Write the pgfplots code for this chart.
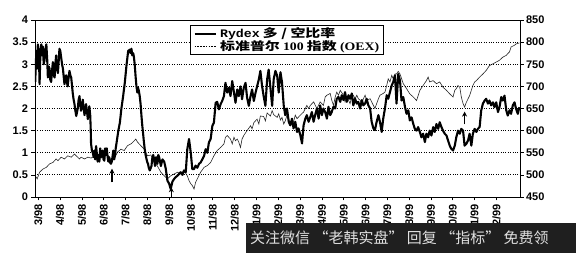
\documentclass[border=0pt]{standalone}
\usepackage{fontspec}
\setmainfont{Liberation Sans}
\newfontfamily\cjk{Noto Sans CJK SC}
\newfontfamily\cjkw[FakeStretch=1.3]{Noto Sans CJK SC}
\newfontfamily\monof[FakeStretch=1.15]{Liberation Mono}
\newfontfamily\seriff[FakeStretch=1.2]{Liberation Serif}
\usepackage{pgfplots}
\pgfplotsset{compat=1.18}
\usetikzlibrary{arrows.meta}
\begin{document}
\begin{tikzpicture}
\begin{axis}[
  name=oex, at={(0,0)}, anchor=south west,
  scale only axis, width=485pt, height=177pt,
  xmin=-0.15, xmax=22.08, ymin=450, ymax=850,
  axis x line=none, axis y line*=right,
  ytick={450,500,...,850},
  tick align=outside, major tick length=3.5pt,
  tick style={black, line width=0.7pt},
  axis line style={black, line width=0.9pt},
  /pgf/number format/assume math mode=true,
  yticklabel style={font=\fontsize{11}{11}\selectfont\bfseries, xshift=-1pt},
]
\addplot[black!85, line width=0.6pt] coordinates {
(-0.14,498)(-0.05,491)(0.06,506)(0.21,513)(0.37,517)(0.52,525)(0.67,528)(0.82,536)(0.90,532)(1.05,540)(1.20,536)(1.35,543)(1.51,540)(1.66,547)(1.74,543)(1.89,536)(1.96,540)(2.12,536)(2.27,540)(2.42,538)(2.57,542)(2.72,545)(2.88,538)(3.03,542)(3.18,545)(3.33,534)(3.49,538)(3.64,552)(3.79,558)(3.94,555)(4.09,566)(4.25,570)(4.40,577)(4.47,581)(4.55,574)(4.70,566)(4.86,558)(4.93,550)(5.01,543)(5.16,545)(5.31,528)(5.46,520)(5.62,506)(5.77,498)(5.92,491)(6.07,498)(6.23,502)(6.38,506)(6.53,502)(6.68,510)(6.83,498)(6.91,487)(6.99,480)(7.06,476)(7.14,468)(7.21,483)(7.29,491)(7.44,506)(7.60,517)(7.75,521)(7.90,528)(8.05,543)(8.20,555)(8.36,562)(8.51,570)(8.58,585)(8.66,589)(8.81,581)(8.89,570)(8.97,585)(9.04,577)(9.12,581)(9.19,574)(9.27,562)(9.34,581)(9.42,589)(9.57,600)(9.73,611)(9.80,604)(9.88,618)(10.03,626)(10.11,615)(10.18,633)(10.33,632)(10.41,622)(10.49,640)(10.64,633)(10.72,645)(10.79,636)(10.95,630)(11.02,638)(11.10,624)(11.17,630)(11.25,615)(11.32,622)(11.40,635)(11.48,627)(11.55,612)(11.70,620)(11.78,635)(11.86,627)(12.01,635)(12.16,642)(12.31,657)(12.39,650)(12.47,657)(12.62,665)(12.77,650)(12.92,665)(13.07,657)(13.15,676)(13.23,680)(13.38,684)(13.45,669)(13.53,657)(13.61,676)(13.68,687)(13.76,680)(13.84,691)(13.99,680)(14.06,665)(14.14,676)(14.22,669)(14.29,661)(14.37,676)(14.44,680)(14.52,672)(14.60,680)(14.67,672)(14.75,669)(14.83,661)(14.90,672)(14.98,680)(15.05,669)(15.21,672)(15.28,665)(15.36,657)(15.43,650)(15.51,661)(15.59,672)(15.66,680)(15.81,684)(15.89,687)(15.97,702)(16.04,717)(16.12,710)(16.20,725)(16.27,717)(16.35,728)(16.42,728)(16.50,734)(16.58,728)(16.73,706)(16.88,695)(17.03,683)(17.19,676)(17.34,668)(17.49,691)(17.64,702)(17.79,713)(17.87,721)(17.94,710)(18.10,713)(18.25,706)(18.40,710)(18.55,698)(18.71,691)(18.86,683)(19.01,676)(19.09,691)(19.16,695)(19.24,702)(19.32,698)(19.39,676)(19.47,661)(19.54,653)(19.62,664)(19.77,679)(19.92,702)(20.00,710)(20.08,713)(20.23,721)(20.38,728)(20.53,736)(20.68,747)(20.84,751)(20.99,755)(21.14,759)(21.29,766)(21.45,770)(21.52,774)(21.60,778)(21.67,789)(21.83,793)(21.90,796)(22.05,798)
};
\end{axis}
\begin{axis}[
  name=ax, at={(0,0)}, anchor=south west,
  scale only axis, width=485pt, height=177pt,
  xmin=-0.15, xmax=22.08, ymin=0, ymax=4,
  ytick={0,0.5,...,4}, ytick pos=left, xtick pos=bottom,
  xtick={0,...,21},
  xticklabels={3/98,4/98,5/98,6/98,7/98,8/98,9/98,10/98,11/98,12/98,1/99,2/99,3/99,4/99,5/99,6/99,7/99,8/99,9/99,10/99,11/99,12/99},
  xticklabel style={rotate=90, anchor=east, font=\fontsize{11}{11}\selectfont\bfseries},
  yticklabel style={font=\fontsize{11}{11}\selectfont\bfseries, /pgf/number format/fixed},
  /pgf/number format/assume math mode=true,
  tick align=outside, major tick length=3.5pt,
  tick style={black, line width=0.7pt},
  axis line style={black, line width=0.9pt},
  ymajorgrids, grid style={black, dotted, line width=0.8pt},
  legend style={at={(0.3196,0.972)}, anchor=north west, draw=black, line width=1pt,
     font=\fontsize{11.5}{11.5}\selectfont, inner xsep=3pt, inner ysep=1pt, row sep=-1.5pt,
     nodes={inner sep=1.5pt}},
  legend image code/.code={\draw[#1] (0pt,0pt) -- (21pt,0pt);},
  legend cell align=left,
]
\addplot[black, line width=2.1pt, line join=round] coordinates {
(-0.14,2.6)(-0.09,3.3)(-0.05,2.9)(-0.02,3.45)(0.03,3.2)(0.06,2.55)(0.10,3.3)(0.14,3.45)(0.18,3.2)(0.21,3.4)(0.25,3.0)(0.29,3.1)(0.33,3.35)(0.37,3.45)(0.41,3.1)(0.44,2.7)(0.48,2.95)(0.52,2.9)(0.55,2.65)(0.59,2.6)(0.63,2.85)(0.67,3.05)(0.71,2.75)(0.75,2.7)(0.78,3.0)(0.82,3.2)(0.86,2.9)(0.90,2.8)(0.94,3.1)(0.97,3.35)(1.01,3.3)(1.05,3.15)(1.09,3.0)(1.13,2.9)(1.17,2.7)(1.20,2.55)(1.24,2.7)(1.28,2.75)(1.31,2.6)(1.35,2.5)(1.39,2.7)(1.43,2.85)(1.47,2.75)(1.51,2.7)(1.55,2.5)(1.58,2.35)(1.62,2.2)(1.66,2.1)(1.70,1.95)(1.74,1.83)(1.77,1.9)(1.81,2.0)(1.85,2.2)(1.89,2.28)(1.92,2.1)(1.96,1.95)(2.00,2.05)(2.04,2.2)(2.08,2.0)(2.12,1.85)(2.16,2.0)(2.19,2.1)(2.23,1.95)(2.27,1.76)(2.31,1.9)(2.34,2.05)(2.38,1.85)(2.40,1.6)(2.42,1.2)(2.46,1.05)(2.50,1.0)(2.54,0.9)(2.57,1.05)(2.61,0.85)(2.65,1.15)(2.69,0.95)(2.72,0.8)(2.76,0.95)(2.80,0.8)(2.84,1.1)(2.87,0.9)(2.91,0.95)(2.95,1.05)(2.99,0.85)(3.03,0.82)(3.06,1.1)(3.10,0.95)(3.14,1.1)(3.18,0.9)(3.21,0.8)(3.25,0.9)(3.29,0.78)(3.33,0.75)(3.37,0.8)(3.40,0.9)(3.44,1.05)(3.48,0.85)(3.52,0.95)(3.55,1.1)(3.59,1.23)(3.67,1.5)(3.74,1.68)(3.81,2.0)(3.89,2.28)(3.97,2.6)(4.04,2.96)(4.12,3.3)(4.19,3.33)(4.23,3.25)(4.27,3.35)(4.31,3.2)(4.35,3.25)(4.38,3.18)(4.42,3.0)(4.46,2.73)(4.50,2.5)(4.54,2.36)(4.57,2.47)(4.61,2.4)(4.65,2.28)(4.69,2.1)(4.73,1.83)(4.77,1.6)(4.80,1.46)(4.84,1.25)(4.88,1.08)(4.92,0.95)(4.96,0.86)(5.00,0.78)(5.03,0.75)(5.07,0.65)(5.11,0.6)(5.15,0.65)(5.19,0.7)(5.22,0.86)(5.27,0.95)(5.31,0.85)(5.35,0.7)(5.40,0.9)(5.46,0.75)(5.50,0.95)(5.54,0.9)(5.62,0.7)(5.69,0.85)(5.77,0.8)(5.84,0.65)(5.92,0.37)(6.00,0.3)(6.07,0.18)(6.15,0.35)(6.23,0.41)(6.30,0.45)(6.38,0.48)(6.45,0.52)(6.53,0.56)(6.61,0.5)(6.68,0.6)(6.76,0.56)(6.83,1.08)(6.91,1.31)(6.99,1.0)(7.06,0.63)(7.14,0.63)(7.21,0.71)(7.29,0.66)(7.37,0.75)(7.44,0.78)(7.52,0.85)(7.60,0.93)(7.67,1.08)(7.75,1.0)(7.82,1.23)(7.90,1.31)(7.98,1.61)(8.05,1.68)(8.13,2.13)(8.20,2.15)(8.28,1.98)(8.36,2.1)(8.43,2.17)(8.51,2.28)(8.58,2.58)(8.66,2.36)(8.74,2.47)(8.81,2.28)(8.89,2.62)(8.97,2.36)(9.04,2.13)(9.12,2.43)(9.19,2.28)(9.27,2.5)(9.34,2.21)(9.42,2.47)(9.50,2.58)(9.57,2.25)(9.65,2.06)(9.73,2.28)(9.80,2.43)(9.88,2.17)(9.96,2.36)(10.03,2.5)(10.11,2.66)(10.18,2.85)(10.26,2.5)(10.33,2.28)(10.41,2.06)(10.49,2.66)(10.56,2.88)(10.64,2.47)(10.72,2.06)(10.79,2.66)(10.87,2.85)(10.95,2.74)(11.02,2.36)(11.10,2.82)(11.17,2.6)(11.25,2.07)(11.32,1.85)(11.40,2.0)(11.48,1.7)(11.55,1.62)(11.63,1.77)(11.70,1.55)(11.78,1.7)(11.86,1.47)(11.93,1.55)(12.01,1.4)(12.09,1.21)(12.16,1.62)(12.24,1.77)(12.31,1.85)(12.39,1.7)(12.47,1.81)(12.54,1.92)(12.62,1.7)(12.69,1.85)(12.77,2.0)(12.85,1.77)(12.92,2.07)(13.00,1.85)(13.07,2.0)(13.15,1.92)(13.23,1.77)(13.30,2.04)(13.38,1.85)(13.45,1.92)(13.53,2.04)(13.61,2.0)(13.68,2.22)(13.76,2.26)(13.84,2.15)(13.91,2.3)(13.99,2.19)(14.06,2.37)(14.14,2.15)(14.22,2.3)(14.29,2.22)(14.37,2.34)(14.44,2.07)(14.52,2.22)(14.60,2.11)(14.67,2.15)(14.75,2.0)(14.83,2.19)(14.90,2.07)(14.98,2.11)(15.05,2.22)(15.13,2.07)(15.21,2.0)(15.28,1.7)(15.36,1.55)(15.43,1.51)(15.51,1.7)(15.59,1.85)(15.66,1.7)(15.74,1.47)(15.81,1.77)(15.89,2.0)(15.97,2.3)(16.04,2.22)(16.12,2.37)(16.20,2.52)(16.27,2.6)(16.35,2.75)(16.42,2.11)(16.50,2.78)(16.58,2.63)(16.65,2.18)(16.73,2.26)(16.81,2.03)(16.88,1.88)(16.96,1.96)(17.03,1.73)(17.11,1.8)(17.19,1.65)(17.26,1.54)(17.34,1.5)(17.41,1.58)(17.49,1.47)(17.56,1.35)(17.64,1.43)(17.72,1.24)(17.79,1.43)(17.87,1.35)(17.94,1.5)(18.02,1.39)(18.10,1.58)(18.17,1.47)(18.25,1.65)(18.33,1.54)(18.40,1.69)(18.48,1.58)(18.55,1.5)(18.63,1.43)(18.71,1.39)(18.78,1.28)(18.86,1.16)(18.93,1.09)(19.01,1.05)(19.09,1.16)(19.16,1.35)(19.24,1.5)(19.32,1.43)(19.39,1.54)(19.47,1.5)(19.54,1.16)(19.62,1.2)(19.70,1.28)(19.77,1.43)(19.85,1.16)(19.92,1.43)(20.00,1.54)(20.08,1.47)(20.15,1.54)(20.23,1.58)(20.30,1.95)(20.38,2.11)(20.46,2.18)(20.53,2.22)(20.61,2.11)(20.68,2.18)(20.76,2.07)(20.84,2.14)(20.91,2.03)(20.99,2.14)(21.07,1.92)(21.14,2.03)(21.22,2.26)(21.29,2.18)(21.37,2.29)(21.45,1.96)(21.52,1.84)(21.60,1.96)(21.67,1.88)(21.75,2.07)(21.83,2.14)(21.90,1.99)(21.98,1.88)(22.05,2.03)
};
\addlegendentry{\hspace{2pt}{\monof\bfseries Rydex} {\cjkw\bfseries 多 / 空比率}}
\addlegendimage{black, line width=0.7pt, dash pattern=on 1.6pt off 1.2pt}
\addlegendentry{\hspace{2pt}{\cjkw\bfseries 标准普尔} {\seriff\bfseries 100} {\cjkw\bfseries 指数} {\seriff\bfseries (OEX)}}
\draw[-{Stealth[length=5pt,width=5pt]}, line width=1.3pt] (axis cs:3.38,0.33) -- (axis cs:3.38,0.64);
\draw[-{Stealth[length=5pt,width=5pt]}, line width=1.3pt] (axis cs:6.1,0.0) -- (axis cs:6.1,0.22);
\draw[-{Stealth[length=5pt,width=5pt]}, line width=1.3pt] (axis cs:19.54,1.64) -- (axis cs:19.54,1.93);
\end{axis}
\fill[black!88] (211pt,-56pt) rectangle (541pt,-26pt);
\node[text=black!12, font=\cjk\fontsize{15}{15}\selectfont, anchor=west, inner sep=0pt] at (215pt,-41pt) {关注微信 “老韩实盘” 回复 “指标” 免费领};
\pgfresetboundingbox
\path[use as bounding box] (-35pt,-56pt) rectangle (541pt,197pt);
\end{tikzpicture}
\end{document}
